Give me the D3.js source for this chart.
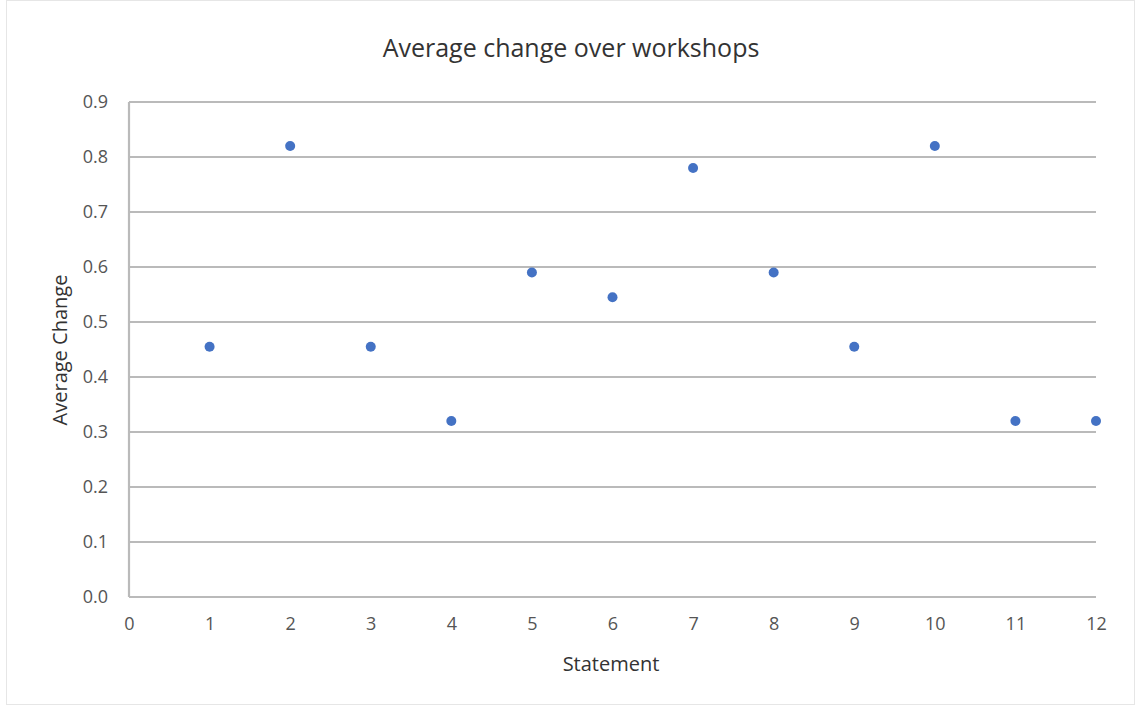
<!DOCTYPE html>
<html>
<head>
<meta charset="utf-8">
<script src="https://cdn.jsdelivr.net/npm/d3@7"></script>
<style>
  html, body { margin: 0; padding: 0; background: #fff; }
  svg { display: block; }
  text { font-family: "Open Sans", "Liberation Sans", sans-serif; }
</style>
</head>
<body>
<div id="chart"></div>
<script>
// Average change per statement
const statements = [1, 2, 3, 4, 5, 6, 7, 8, 9, 10, 11, 12];
const avgChange = [0.455, 0.82, 0.455, 0.32, 0.59, 0.545, 0.78, 0.59, 0.455, 0.82, 0.32, 0.32];
const xTicks = [0, 1, 2, 3, 4, 5, 6, 7, 8, 9, 10, 11, 12];
const yTicks = [0, 0.1, 0.2, 0.3, 0.4, 0.5, 0.6, 0.7, 0.8, 0.9];

const W = 1139, H = 709;
const plot = { left: 129, right: 1096, top: 102, bottom: 597 };

const svg = d3.select("#chart").append("svg")
  .attr("width", W).attr("height", H);

// chart area outline
svg.append("rect")
  .attr("x", 6.5).attr("y", 0.5)
  .attr("width", 1128).attr("height", 704)
  .attr("fill", "#fff").attr("stroke", "#e6e6e6");

const x = d3.scaleLinear().domain([0, 12]).range([plot.left, plot.right]);
const y = d3.scaleLinear().domain([0, 0.9]).range([plot.bottom, plot.top]);

// horizontal gridlines
svg.append("g")
  .selectAll("line")
  .data(yTicks)
  .join("line")
  .attr("x1", plot.left).attr("x2", plot.right)
  .attr("y1", d => y(d)).attr("y2", d => y(d))
  .attr("stroke", "#bababa").attr("stroke-width", 2.2);

// left axis line
svg.append("line")
  .attr("x1", plot.left).attr("x2", plot.left)
  .attr("y1", plot.top).attr("y2", plot.bottom)
  .attr("stroke", "#bababa").attr("stroke-width", 2.2);

// y tick labels
const yAxis = svg.append("g")
  .attr("transform", `translate(${plot.left},0)`)
  .call(d3.axisLeft(y).tickValues(yTicks).tickFormat(d3.format(".1f")).tickSize(0).tickPadding(21));
yAxis.select(".domain").remove();
yAxis.selectAll("text")
  .attr("font-size", 18).attr("fill", "#555")
  .style("font-family", "'Open Sans', sans-serif");

// x tick labels
const xAxis = svg.append("g")
  .attr("transform", `translate(0,${plot.bottom})`)
  .call(d3.axisBottom(x).tickValues(xTicks).tickFormat(d3.format("d")).tickSize(0).tickPadding(20));
xAxis.select(".domain").remove();
xAxis.selectAll("text")
  .attr("font-size", 18).attr("fill", "#555")
  .style("font-family", "'Open Sans', sans-serif");

// points
svg.append("g")
  .selectAll("circle")
  .data(statements.map((s, i) => ({ s, v: avgChange[i] })))
  .join("circle")
  .attr("cx", d => x(d.s))
  .attr("cy", d => y(d.v))
  .attr("r", 5)
  .attr("fill", "#4472C4");

// title
svg.append("text")
  .attr("x", 571).attr("y", 57)
  .attr("text-anchor", "middle")
  .attr("font-size", 25).attr("fill", "#333")
  .text("Average change over workshops");

// axis titles
svg.append("text")
  .attr("x", 611).attr("y", 671)
  .attr("text-anchor", "middle")
  .attr("font-size", 20).attr("fill", "#333")
  .text("Statement");

svg.append("text")
  .attr("transform", "translate(67,350) rotate(-90)")
  .attr("text-anchor", "middle")
  .attr("font-size", 20).attr("fill", "#333")
  .text("Average Change");
</script>
</body>
</html>
